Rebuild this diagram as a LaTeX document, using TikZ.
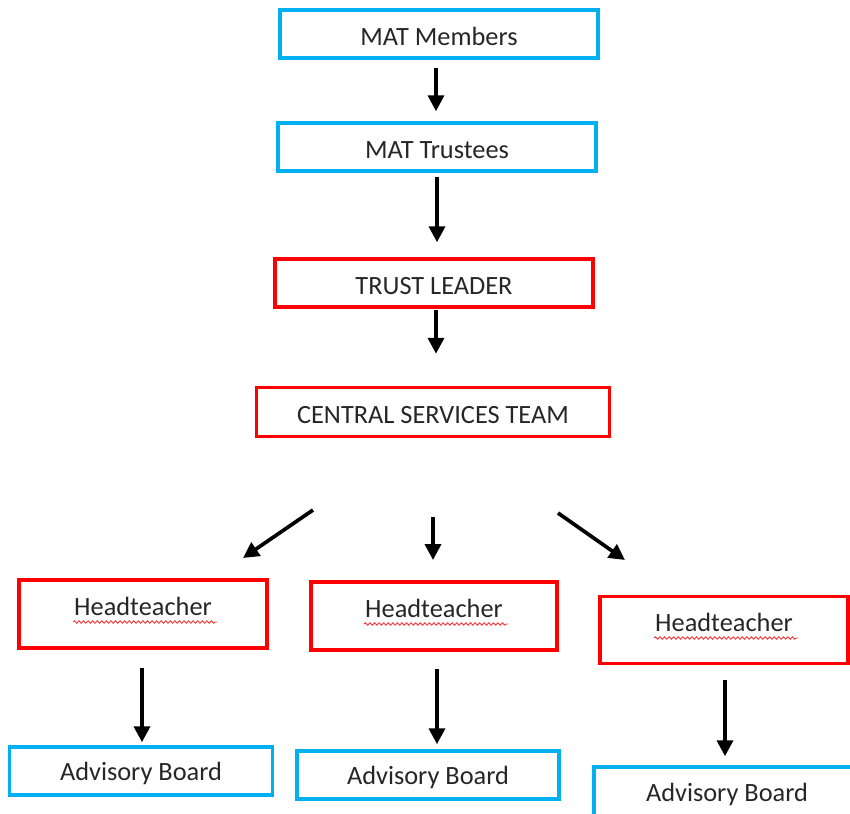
\documentclass[tikz,border=0pt]{standalone}
\usepackage{fontspec}
\setmainfont{Carlito}
\usetikzlibrary{positioning,arrows.meta,decorations.pathmorphing}
\definecolor{boxblue}{RGB}{0,176,240}
\definecolor{boxred}{RGB}{255,0,0}
\begin{document}
\begin{tikzpicture}[
  x=0.02cm, y=-0.02cm,
  box/.style={rectangle, draw, line width=2pt, inner sep=0pt, text=black!85, text height=13pt, font=\fontsize{15}{18}\selectfont},
  bluebox/.style={box, draw=boxblue, minimum width=6.36cm, minimum height=0.96cm},
  redbox/.style={box, draw=boxred, minimum width=6.36cm, minimum height=0.96cm},
  headbox/.style={box, draw=boxred, minimum width=4.96cm, minimum height=1.36cm, text height=11pt, text depth=9pt},
  boardbox/.style={box, draw=boxblue, minimum width=5.26cm, minimum height=0.96cm},
  flow/.style={-{Triangle[length=9pt,width=9pt]}, line width=2.1pt},
  squiggle/.style={draw=boxred!80, line width=0.5pt, decorate, decoration={snake, amplitude=0.7pt, segment length=2.6pt}}
]
  \useasboundingbox (0,0) rectangle (850,814);
  \clip (0,0) rectangle (850,814);

  \node[bluebox] (members) at (439,34) {MAT Members};
  \node[bluebox] (trustees) at (437,147) {MAT Trustees};
  \node[redbox] (leader) at (434,283) {TRUST LEADER};
  \node[redbox, minimum width=7.06cm, minimum height=0.98cm] (central) at (433,412) {CENTRAL SERVICES TEAM};

  \node[headbox] (ht1) at (143,614) {Headteacher};
  \node[headbox, minimum width=4.92cm] (ht2) at (434,616) {Headteacher};
  \node[headbox, minimum height=1.34cm] (ht3) at (724,630) {Headteacher};

  \node[boardbox] (ab1) at (141,771) {Advisory Board};
  \node[boardbox, minimum width=5.24cm] (ab2) at (428,775) {Advisory Board};
  \node[boardbox, minimum width=5.32cm, minimum height=1cm] (ab3) at (727,792) {Advisory Board};

  % spelling underlines
  \foreach \n in {ht1,ht2,ht3}
    \draw[squiggle] ([shift={(-70,8)}]\n.center) -- ([shift={(74,8)}]\n.center);

  % top chain
  \draw[flow, shorten <=0.16cm, shorten >=0.2cm] (members.south -| 436,0) -- (trustees.north -| 436,0);
  \draw[flow, shorten <=0.08cm, shorten >=0.3cm] (trustees.south -| 437,0) -- (leader.north -| 437,0);
  \draw[flow, shorten <=0.02cm, shorten >=0.64cm] (leader.south -| 436,0) -- (central.north -| 436,0);

  % split to the schools
  \coordinate (l0) at (313,510);
  \coordinate (l1) at (243,558);
  \coordinate (m0) at (433,517);
  \coordinate (m1) at (433,560);
  \coordinate (r0) at (558,513);
  \coordinate (r1) at (625,560);
  \draw[flow] (l0) -- (l1);
  \draw[flow] (m0) -- (m1);
  \draw[flow] (r0) -- (r1);

  % headteacher to board
  \draw[flow, shorten <=0.36cm, shorten >=0.06cm] (ht1.south -| 142,0) -- (ab1.north -| 142,0);
  \draw[flow, shorten <=0.34cm, shorten >=0.1cm] (ht2.south -| 437,0) -- (ab2.north -| 437,0);
  \draw[flow, shorten <=0.3cm, shorten >=0.18cm] (ht3.south -| 725,0) -- (ab3.north -| 725,0);
\end{tikzpicture}
\end{document}
